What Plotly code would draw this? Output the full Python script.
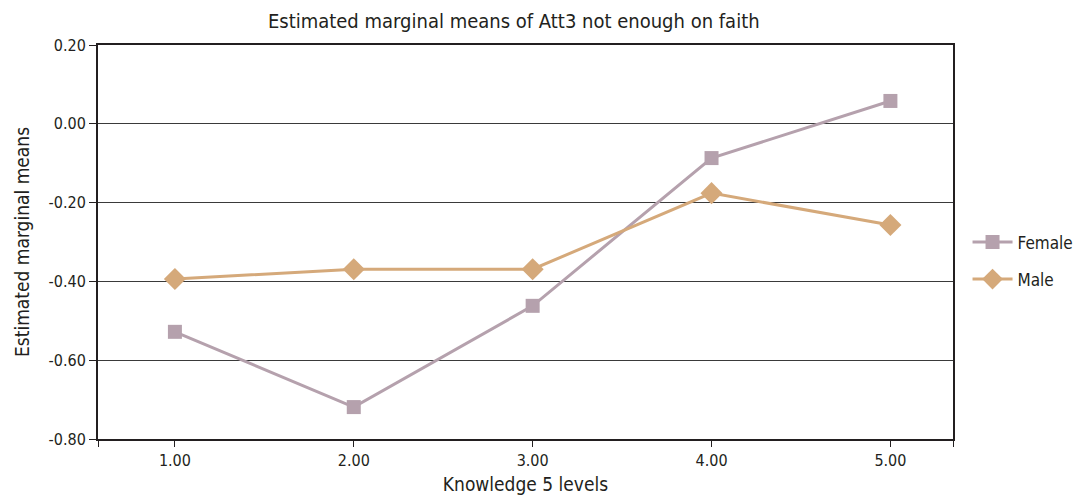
import plotly.graph_objects as go

levels = [1, 2, 3, 4, 5]
level_labels = ["1.00", "2.00", "3.00", "4.00", "5.00"]
female = [-0.528, -0.719, -0.462, -0.087, 0.058]
male = [-0.394, -0.369, -0.369, -0.176, -0.257]
y_ticks = [0.2, 0.0, -0.2, -0.4, -0.6, -0.8]
y_labels = ["0.20", "0.00", "-0.20", "-0.40", "-0.60", "-0.80"]

FONT = "Liberation Sans Narrow, DejaVu Sans Condensed, Arial Narrow, sans-serif"
female_c = "#b5a1ad"
male_c = "#d5a97a"

fig = go.Figure()
fig.add_trace(go.Scatter(
    x=levels, y=female, name="Female", mode="lines+markers", legendgroup="f",
    line=dict(color=female_c, width=3),
    marker=dict(symbol="square", size=14, color=female_c),
))
fig.add_trace(go.Scatter(
    x=levels, y=male, name="Male", mode="lines+markers", legendgroup="m",
    line=dict(color=male_c, width=3),
    marker=dict(symbol="diamond", size=17, color=male_c),
))

x_lo, x_hi = 0.57, 5.35
fig.update_layout(
    width=1083, height=492,
    margin=dict(l=90, r=138, t=37, b=61),
    paper_bgcolor="white", plot_bgcolor="white",
    font=dict(family=FONT, color="#231f20", size=16),
    title=dict(text="Estimated marginal means of Att3 not enough on faith",
               x=0.467, xanchor="center", y=0.974, yanchor="middle",
               font=dict(size=20, family=FONT, color="#231f20")),
    xaxis=dict(
        range=[x_lo, x_hi], automargin=False,
        tickvals=[x_lo] + levels + [x_hi],
        ticktext=[""] + level_labels + [""],
        ticks="outside", ticklen=6, tickcolor="#231f20", tickwidth=1,
        showgrid=False, zeroline=False,
        showline=True, linecolor="#231f20", linewidth=2, mirror=True,
        tickfont=dict(size=16),
        title=dict(text="Knowledge 5 levels", font=dict(size=19), standoff=8),
    ),
    yaxis=dict(
        range=[-0.8, 0.2], automargin=False,
        tickvals=y_ticks, ticktext=y_labels,
        ticks="outside", ticklen=7, tickcolor="#231f20", tickwidth=1,
        showgrid=True, gridcolor="#3a3a3a", gridwidth=1,
        zeroline=False,
        showline=True, linecolor="#231f20", linewidth=2, mirror=True,
        tickfont=dict(size=16),
        title=dict(text="Estimated marginal means", font=dict(size=19), standoff=14),
    ),
    legend=dict(
        x=1.017, xanchor="left", y=0.452, yanchor="middle",
        font=dict(size=17), traceorder="grouped", tracegroupgap=12, itemwidth=40,
        bgcolor="rgba(0,0,0,0)",
    ),
)

fig.write_html("out.html")
